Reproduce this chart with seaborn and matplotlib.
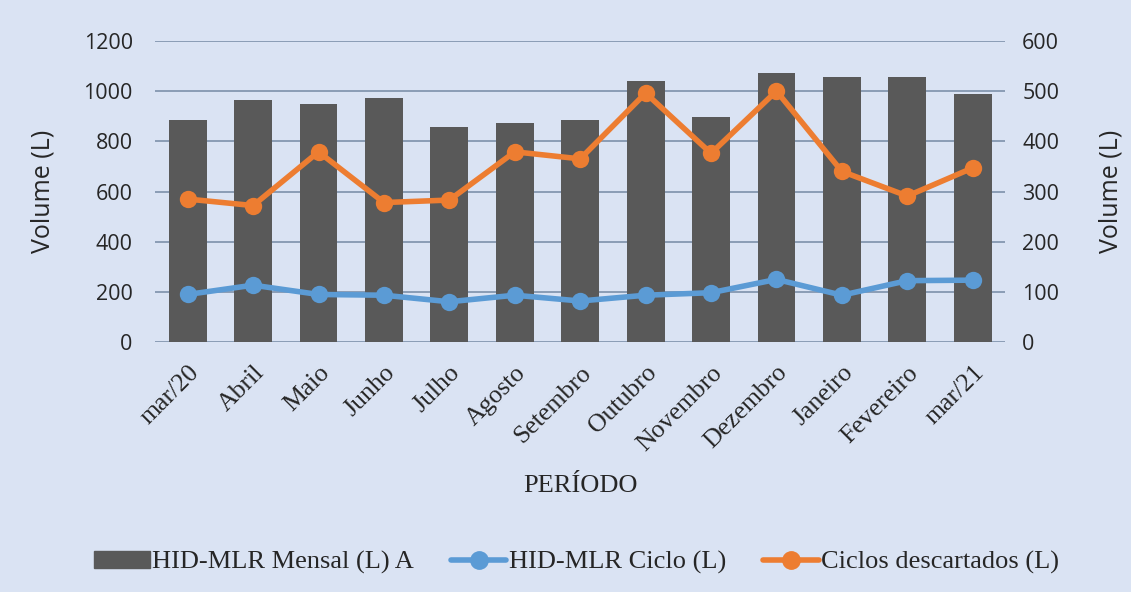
import numpy as np
import pandas as pd
import matplotlib
matplotlib.use("Agg")
import matplotlib.pyplot as plt
from matplotlib.lines import Line2D
from matplotlib.patches import Patch
import seaborn as sns

# Data
periodos = ['mar/20', 'Abril', 'Maio', 'Junho', 'Julho', 'Agosto', 'Setembro',
            'Outubro', 'Novembro', 'Dezembro', 'Janeiro', 'Fevereiro', 'mar/21']
mensal = [885, 965, 948, 974, 855, 871, 885, 1042, 897, 1072, 1055, 1058, 990]
ciclo = [190, 227, 190, 187, 161, 187, 164, 187, 197, 250, 187, 245, 247]
descartados = [285, 272, 379, 278, 283, 379, 365, 496, 376, 500, 340, 291, 347]

df = pd.DataFrame({'periodo': periodos, 'mensal': mensal,
                   'ciclo': ciclo, 'descartados': descartados})
df['pos'] = np.arange(len(df))

bg = '#DAE3F3'
c_bar = '#595959'
c_blue = '#5B9BD5'
c_orange = '#ED7D31'
c_grid = '#8497B0'

sns.set_style('white')
plt.rcParams['font.family'] = ['Open Sans', 'DejaVu Sans']

fig = plt.figure(figsize=(11.31, 5.92), dpi=100, facecolor=bg)
ax = fig.add_axes([0.137, 0.422, 0.752, 0.509])
ax.set_facecolor(bg)

sns.barplot(data=df, x='periodo', y='mensal', color=c_bar, width=0.58,
            saturation=1, linewidth=0, ax=ax, zorder=2)
sns.lineplot(data=df, x='pos', y='ciclo', color=c_blue, lw=4, marker='o',
             markersize=12.5, markeredgewidth=0, ax=ax, zorder=3)

ax.set_ylim(0, 1200)
ax.set_yticks(range(0, 1201, 200))
ax.set_xlim(-0.5, len(df) - 0.5)
ax.grid(axis='y', color=c_grid, lw=1.3, zorder=0)
ax.set_axisbelow(True)
for s in ax.spines.values():
    s.set_visible(False)
ax.tick_params(axis='both', length=0)
ax.tick_params(axis='y', labelsize=15.5, pad=16)
ax.set_ylabel('Volume (L)', fontsize=18, labelpad=20)
ax.set_xlabel('PERÍODO', fontsize=19, family='Liberation Serif', labelpad=14)
ax.set_xticks(df['pos'])
ax.set_xticklabels(periodos, rotation=45, ha='right', rotation_mode='anchor',
                   family='Liberation Serif', fontsize=18.5)
ax.tick_params(axis='x', pad=14)

ax2 = ax.twinx()
sns.lineplot(data=df, x='pos', y='descartados', color=c_orange, lw=4,
             marker='o', markersize=12.5, markeredgewidth=0, ax=ax2, zorder=3)
ax2.set_ylim(0, 600)
ax2.set_yticks(range(0, 601, 100))
for s in ax2.spines.values():
    s.set_visible(False)
ax2.tick_params(axis='y', length=0, pad=12, labelsize=15.5)
ax2.set_ylabel('Volume (L)', fontsize=18, labelpad=28)
ax2.set_xlim(-0.5, len(df) - 0.5)

handles = [
    Patch(color=c_bar, label='HID-MLR Mensal (L) A'),
    Line2D([], [], color=c_blue, lw=4, marker='o', markersize=12.5,
           label='HID-MLR Ciclo (L)'),
    Line2D([], [], color=c_orange, lw=4, marker='o', markersize=12.5,
           label='Ciclos descartados (L)'),
]
fig.legend(handles=handles, loc='center', bbox_to_anchor=(0.51, 0.05), ncol=3,
           frameon=False, prop={'family': 'Liberation Serif', 'size': 19},
           handlelength=2.1, handleheight=0.6, handletextpad=0.1,
           columnspacing=1.4)

fig.savefig('out.png', dpi=100, facecolor=bg)
